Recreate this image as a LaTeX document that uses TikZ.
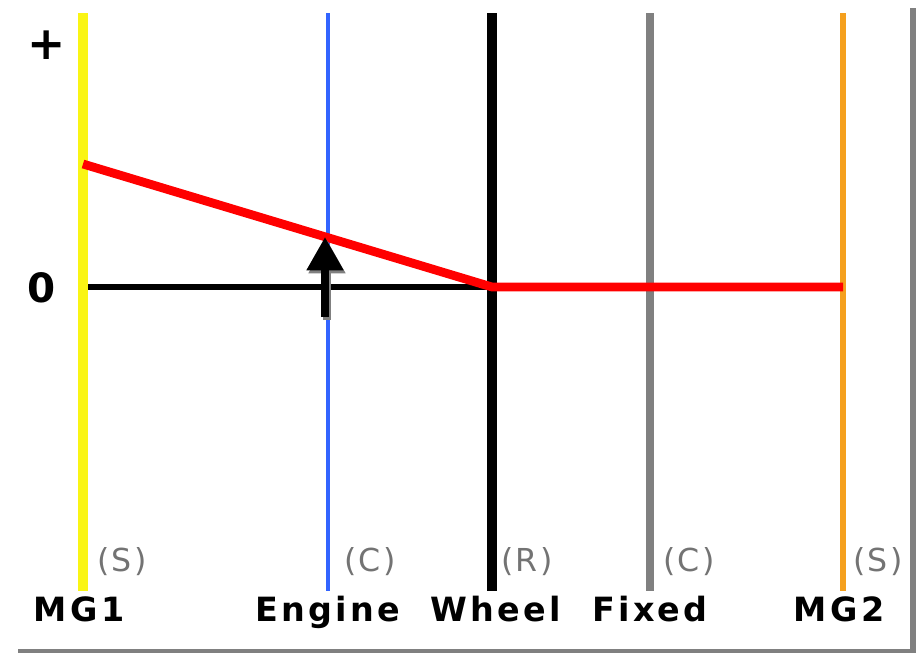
\documentclass[tikz,border=0pt]{standalone}
\usepackage{fontspec}
\setmainfont{DejaVu Sans}
\usetikzlibrary{arrows.meta}
\definecolor{mgyellow}{RGB}{250,245,20}
\definecolor{engblue}{RGB}{50,100,255}
\definecolor{mgorange}{RGB}{245,160,30}
\definecolor{speedred}{RGB}{255,0,0}

\begin{document}
\begin{tikzpicture}[x=0.02cm, y=-0.02cm, >=Stealth,
  axlabel/.style={font=\bfseries\fontsize{19}{19}\selectfont\addfontfeature{LetterSpace=10}, inner sep=0pt, anchor=base},
  gear/.style={text=black!55, font=\fontsize{18}{18}\selectfont\addfontfeature{LetterSpace=8}, inner sep=0pt}]
  \useasboundingbox (0,0) rectangle (921,656);
  % frame
  \draw[gray, line width=3.4pt] (913,8) -- (913,652);
  \draw[gray, line width=2.4pt] (18,651) -- (916,651);
  % axes
  \coordinate (mg1top) at (83,13);   \coordinate (mg1bot) at (83,591);
  \coordinate (engtop) at (328,13);  \coordinate (engbot) at (328,591);
  \coordinate (whltop) at (492,13);  \coordinate (whlbot) at (492,591);
  \coordinate (fixtop) at (650,13);  \coordinate (fixbot) at (650,591);
  \coordinate (mg2top) at (843,13);  \coordinate (mg2bot) at (843,591);
  \draw[mgyellow, line width=5.7pt] (mg1top) -- (mg1bot);
  \draw[engblue, line width=2.8pt] (engtop) -- (engbot);
  \draw[black, line width=5.7pt] (whltop) -- (whlbot);
  \draw[gray, line width=4pt] (fixtop) -- (fixbot);
  \draw[mgorange, line width=3.4pt] (mg2top) -- (mg2bot);
  % zero line
  \coordinate (zero) at (88,287);
  \coordinate (whl0) at (492,287);
  \draw[black, line width=3.4pt] (zero) -- (whl0);
  % speed line
  \coordinate (mg1s) at (83,164);
  \coordinate (mg2s) at (843,287);
  \draw[speedred, line width=5pt, line join=round] (mg1s) -- (whl0) -- (mg2s);
  % engine torque
  \coordinate (engfoot) at (325,317);
  \coordinate (engtip) at (325,237);
  \draw[gray, line width=4.4pt, -{Triangle[width=20pt,length=19pt]}] ([shift={(2,3)}]engfoot) -- ([shift={(2,3)}]engtip);
  \draw[black, line width=4.4pt, -{Triangle[width=20pt,length=19pt]}] (engfoot) -- (engtip);
  % scale marks
  \node[font=\bfseries\fontsize{26}{26}\selectfont] (plus) at (47,45) {+};
  \node[font=\bfseries\fontsize{23}{23}\selectfont] (nought) at (42,288) {0};
  % gear letters
  \node[gear] (s1) at (122,562) {(S)};
  \node[gear] (c1) at (370,562) {(C)};
  \node[gear] (r1) at (527,562) {(R)};
  \node[gear] (c2) at (689,562) {(C)};
  \node[gear] (s2) at (878,562) {(S)};
  % names
  \node[axlabel] (mg1) at (79,621) {MG1};
  \node[axlabel] (engine) at (328,621) {Engine};
  \node[axlabel] (wheel) at (496,621) {Wheel};
  \node[axlabel] (fixed) at (650,621) {Fixed};
  \node[axlabel] (mg2) at (839,621) {MG2};
\end{tikzpicture}
\end{document}
